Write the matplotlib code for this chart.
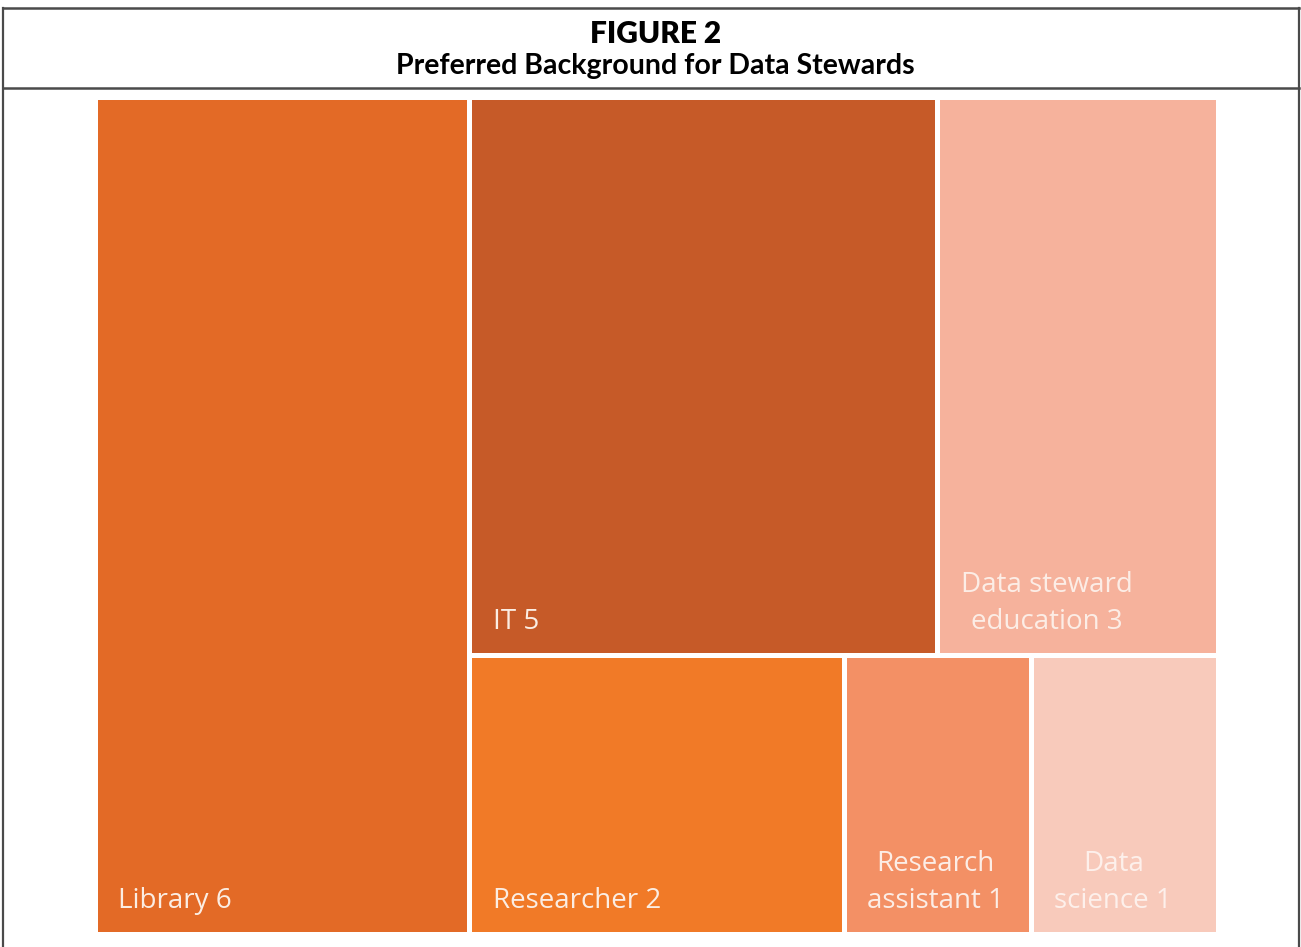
import matplotlib.pyplot as plt
from matplotlib.patches import Rectangle

# ----------------------
# Data
# ----------------------
labels = ["Library 6", "IT 5", "Data steward\neducation 3", "Researcher 2",
          "Research\nassistant 1", "Data\nscience 1"]
values = [6, 5, 3, 2, 1, 1]
colors = ["#E36A26", "#C65A28", "#F6B29C", "#F17A27", "#F39065", "#F8CABB"]
text_colors = ["#FBEDE3", "#FBEDE3", "#FCEDE6", "#FBEDE3", "#FCEDE6", "#FDF0EB"]

# ----------------------
# Figure in pixel coordinates
# ----------------------
fig = plt.figure(figsize=(13.01, 9.47), dpi=100)
ax = fig.add_axes([0, 0, 1, 1])
ax.set_xlim(0, 1301)
ax.set_ylim(947, 0)
ax.axis("off")

# frame + header
frame = "#4a4a4a"
ax.plot([3, 3], [8, 947], color=frame, lw=1.6)
ax.plot([1299, 1299], [8, 947], color=frame, lw=1.6)
ax.plot([3, 1299], [8, 8], color=frame, lw=1.8)
ax.plot([3, 1299], [88, 88], color=frame, lw=1.8)

ax.text(656, 34, "FIGURE 2", ha="center", va="center", fontsize=21.5,
        fontweight="heavy", family="Lato", color="black")
ax.text(655, 66, "Preferred Background for Data Stewards", ha="center", va="center",
        fontsize=20.5, fontweight="bold", family="Lato", color="black")

# ----------------------
# Treemap layout: first item as a column, rest in two rows
# ----------------------
x0, x1, y0, y1 = 95.5, 1218.5, 97.5, 934.5
gap = 5
W, H = x1 - x0, y1 - y0
total = sum(values)

rects = []
lib_w = W * values[0] / total
rects.append((x0, y0, lib_w, H))
rest = values[1:]
rest_total = sum(rest)
top, bottom = rest[:2], rest[2:]
top_h = H * sum(top) / rest_total
rx, rw = x0 + lib_w, W - lib_w
cx = rx
for v in top:
    w = rw * v / sum(top)
    rects.append((cx, y0, w, top_h))
    cx += w
cx = rx
for v in bottom:
    w = rw * v / sum(bottom)
    rects.append((cx, y0 + top_h, w, H - top_h))
    cx += w

for (x, y, w, h), lab, c, tc in zip(rects, labels, colors, text_colors):
    ax.add_patch(Rectangle((x + gap / 2, y + gap / 2), w - gap, h - gap,
                           facecolor=c, edgecolor="none"))
    ax.text(x + 23, y + h - 27, lab, ha="left", va="baseline",
            multialignment="center", fontsize=20, family="Open Sans",
            color=tc, linespacing=1.4)

fig.savefig("out.png", dpi=100)
